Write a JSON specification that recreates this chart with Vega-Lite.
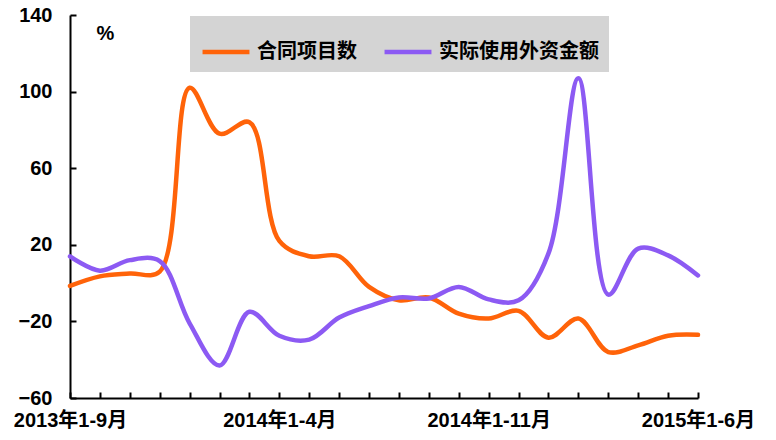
{
  "$schema": "https://vega.github.io/schema/vega-lite/v6.json",
  "width": 628,
  "height": 383,
  "autosize": {"type": "none"},
  "padding": {"left": 70, "top": 15, "right": 78, "bottom": 42},
  "background": "white",
  "config": {
    "view": {"stroke": null},
    "font": "Liberation Sans, Noto Sans CJK SC, sans-serif"
  },
  "data": {
    "values": [
      {"month": "2013年1-9月", "series": "合同项目数", "value": -1.5},
      {"month": "2013年1-10月", "series": "合同项目数", "value": 3.5},
      {"month": "2013年1-11月", "series": "合同项目数", "value": 5},
      {"month": "2013年1-12月", "series": "合同项目数", "value": 6},
      {"month": "2014年1-1月", "series": "合同项目数", "value": 102},
      {"month": "2014年1-2月", "series": "合同项目数", "value": 78},
      {"month": "2014年1-3月", "series": "合同项目数", "value": 84},
      {"month": "2014年1-4月", "series": "合同项目数", "value": 22},
      {"month": "2014年1-5月", "series": "合同项目数", "value": 14},
      {"month": "2014年1-6月", "series": "合同项目数", "value": 14},
      {"month": "2014年1-7月", "series": "合同项目数", "value": -2},
      {"month": "2014年1-8月", "series": "合同项目数", "value": -9},
      {"month": "2014年1-9月", "series": "合同项目数", "value": -7.5},
      {"month": "2014年1-10月", "series": "合同项目数", "value": -16},
      {"month": "2014年1-11月", "series": "合同项目数", "value": -18.5},
      {"month": "2014年1-12月", "series": "合同项目数", "value": -14.5},
      {"month": "2015年1-1月", "series": "合同项目数", "value": -28.5},
      {"month": "2015年1-2月", "series": "合同项目数", "value": -18.5},
      {"month": "2015年1-3月", "series": "合同项目数", "value": -36},
      {"month": "2015年1-4月", "series": "合同项目数", "value": -32.5},
      {"month": "2015年1-5月", "series": "合同项目数", "value": -27.5},
      {"month": "2015年1-6月", "series": "合同项目数", "value": -27},
      {"month": "2013年1-9月", "series": "实际使用外资金额", "value": 14},
      {"month": "2013年1-10月", "series": "实际使用外资金额", "value": 6.5},
      {"month": "2013年1-11月", "series": "实际使用外资金额", "value": 12},
      {"month": "2013年1-12月", "series": "实际使用外资金额", "value": 11.5},
      {"month": "2014年1-1月", "series": "实际使用外资金额", "value": -21},
      {"month": "2014年1-2月", "series": "实际使用外资金额", "value": -43},
      {"month": "2014年1-3月", "series": "实际使用外资金额", "value": -15},
      {"month": "2014年1-4月", "series": "实际使用外资金额", "value": -27.5},
      {"month": "2014年1-5月", "series": "实际使用外资金额", "value": -29.5},
      {"month": "2014年1-6月", "series": "实际使用外资金额", "value": -18},
      {"month": "2014年1-7月", "series": "实际使用外资金额", "value": -12},
      {"month": "2014年1-8月", "series": "实际使用外资金额", "value": -7.5},
      {"month": "2014年1-9月", "series": "实际使用外资金额", "value": -8},
      {"month": "2014年1-10月", "series": "实际使用外资金额", "value": -2},
      {"month": "2014年1-11月", "series": "实际使用外资金额", "value": -8.5},
      {"month": "2014年1-12月", "series": "实际使用外资金额", "value": -9},
      {"month": "2015年1-1月", "series": "实际使用外资金额", "value": 15.5},
      {"month": "2015年1-2月", "series": "实际使用外资金额", "value": 107},
      {"month": "2015年1-3月", "series": "实际使用外资金额", "value": -6},
      {"month": "2015年1-4月", "series": "实际使用外资金额", "value": 18},
      {"month": "2015年1-5月", "series": "实际使用外资金额", "value": 14.5},
      {"month": "2015年1-6月", "series": "实际使用外资金额", "value": 4}
    ]
  },
  "mark": {"type": "line", "interpolate": "catmull-rom", "strokeWidth": 4.5, "strokeCap": "round"},
  "encoding": {
    "x": {
      "field": "month",
      "type": "ordinal",
      "sort": null,
      "scale": {"type": "point", "padding": 0},
      "axis": {
        "title": null,
        "labelAngle": 0,
        "labelOverlap": false,
        "labelExpr": "indexof(['2013年1-9月','2014年1-4月','2014年1-11月','2015年1-6月'], datum.value) >= 0 ? datum.value : ''",
        "labelFont": "Liberation Sans, Noto Sans CJK SC",
        "labelFontSize": 20,
        "labelFontWeight": "bold",
        "labelColor": "black",
        "labelPadding": 18,
        "domainColor": "black",
        "domainWidth": 2,
        "tickColor": "black",
        "tickWidth": 2,
        "tickSize": -6,
        "grid": false
      }
    },
    "y": {
      "field": "value",
      "type": "quantitative",
      "scale": {"domain": [-60, 140], "nice": false, "zero": false},
      "axis": {
        "values": [-60, -20, 20, 60, 100, 140],
        "title": "%",
        "titleAngle": 0,
        "titleX": 35,
        "titleY": 18,
        "titleAlign": "center",
        "titleBaseline": "middle",
        "titleFontSize": 20,
        "titleFontWeight": "bold",
        "titleColor": "black",
        "titleFont": "Liberation Sans",
        "labelFont": "Liberation Sans",
        "labelFontSize": 20,
        "labelFontWeight": "bold",
        "labelColor": "black",
        "labelPadding": 24,
        "domainColor": "black",
        "domainWidth": 2,
        "tickColor": "black",
        "tickWidth": 2,
        "tickSize": -6,
        "grid": false
      }
    },
    "color": {
      "field": "series",
      "type": "nominal",
      "scale": {"domain": ["合同项目数", "实际使用外资金额"], "range": ["#ff6309", "#8c5af3"]},
      "legend": {
        "title": null,
        "orient": "none",
        "legendX": 120,
        "legendY": 1,
        "direction": "horizontal",
        "fillColor": "#d4d4d4",
        "padding": 10,
        "symbolType": "stroke",
        "symbolSize": 2200,
        "symbolStrokeWidth": 4.5,
        "labelFont": "Noto Sans CJK SC",
        "labelFontSize": 20,
        "labelFontWeight": "bold",
        "labelColor": "black",
        "labelOffset": 5,
        "columnPadding": 18,
        "labelLimit": 300
      }
    }
  }
}
